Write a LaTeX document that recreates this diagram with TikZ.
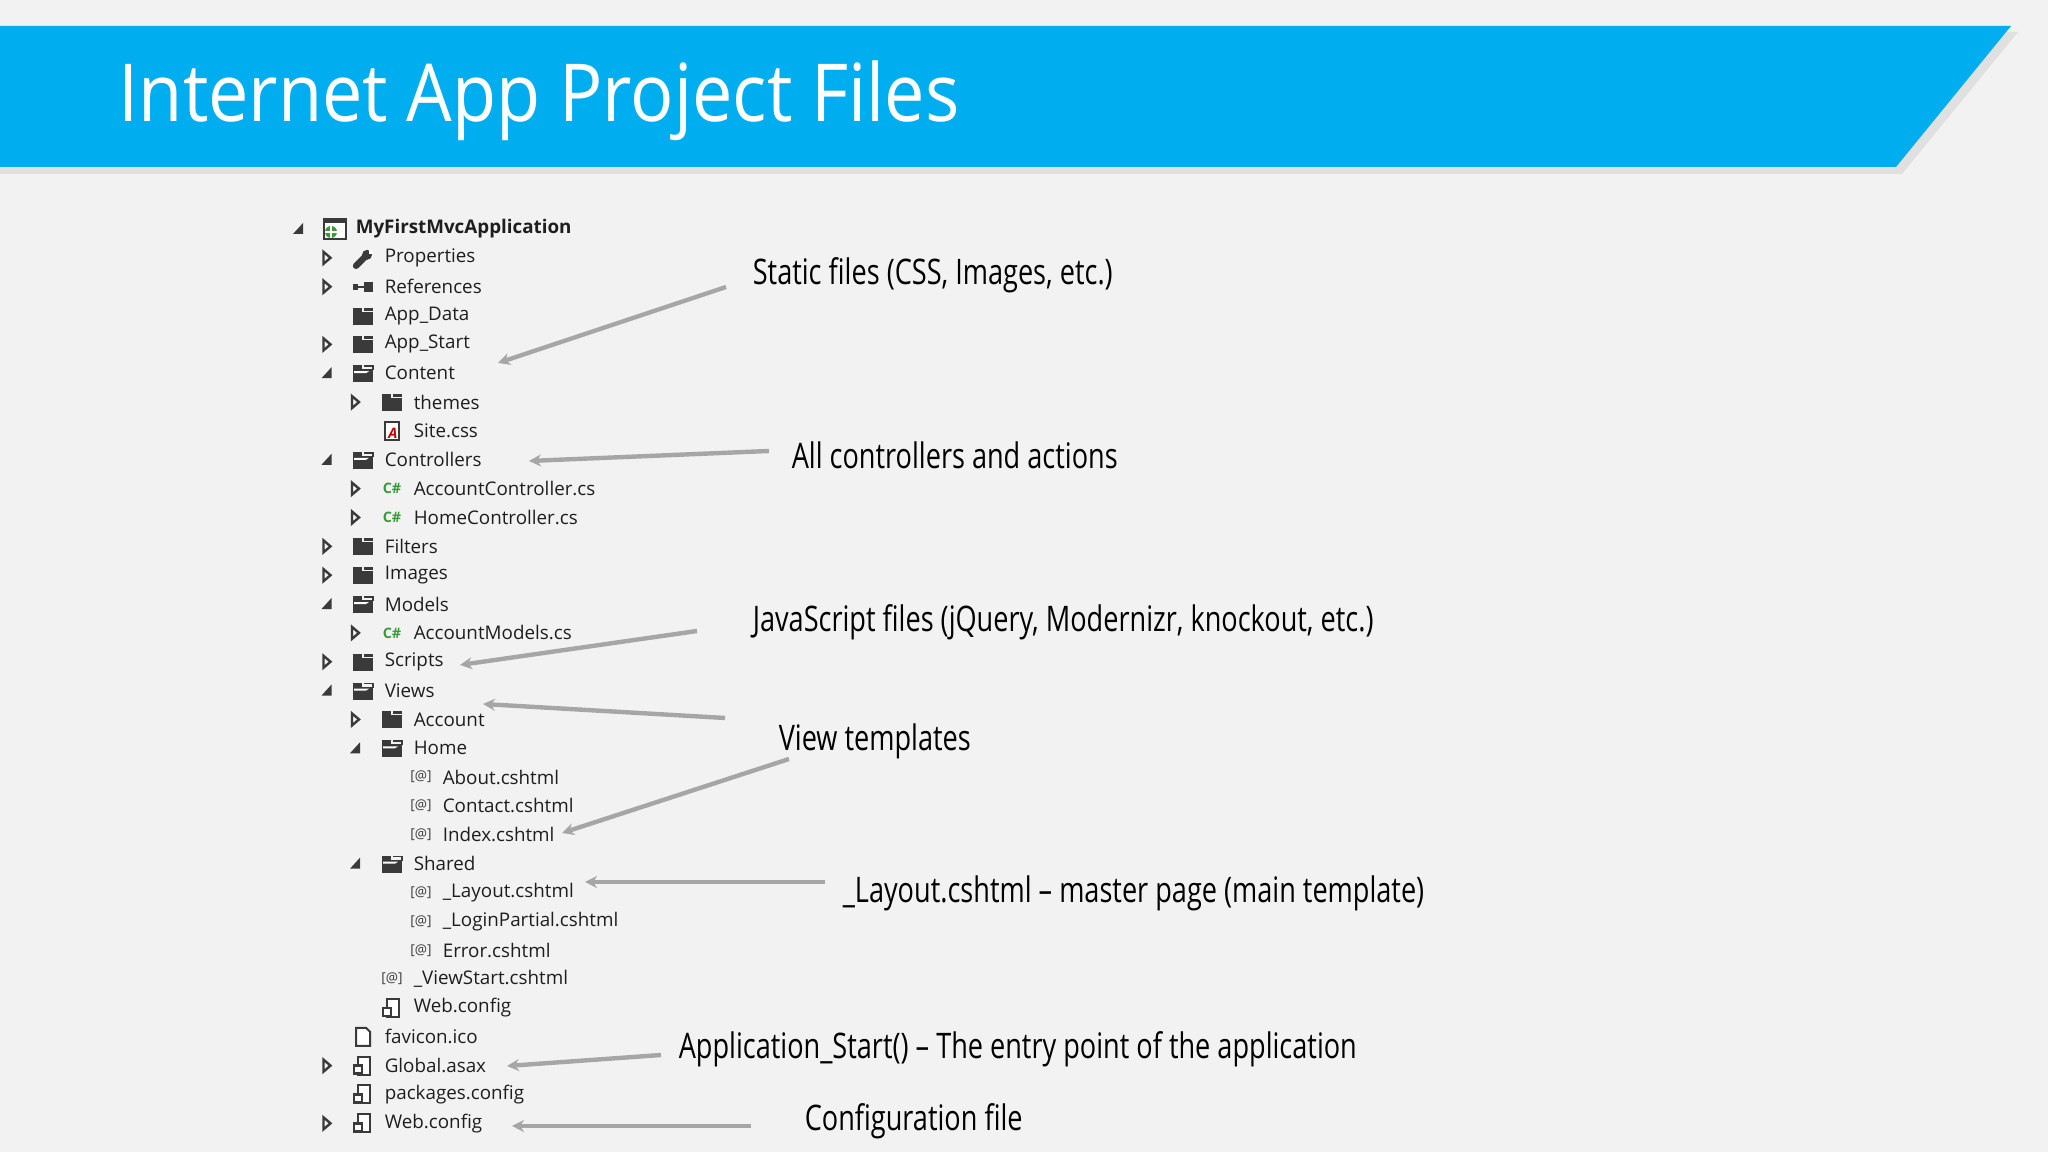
\documentclass[tikz,border=0pt]{standalone}
\usepackage{fontspec}
\setmainfont{Open Sans}
\newfontfamily\titlef[FakeStretch=0.9]{Open Sans}
\newfontfamily\notef[FakeStretch=0.77]{Open Sans}
\usetikzlibrary{arrows.meta}
\definecolor{bg}{HTML}{F2F2F2}
\definecolor{banner}{HTML}{00AEEF}
\definecolor{iconc}{HTML}{3A3A3A}
\definecolor{txt}{HTML}{1E1E1E}
\definecolor{arrc}{HTML}{A6A6A6}
\definecolor{csg}{HTML}{3C9A3C}
\tikzset{
 tree/.style={anchor=west,inner sep=0pt,text=txt,font=\fontsize{4.7pt}{6pt}\selectfont},
 note/.style={anchor=west,inner sep=0pt,text=black,font=\notef\fontsize{8.8pt}{10pt}\selectfont},
 arr/.style={draw=arrc,line width=1.1pt,-{Stealth[length=3pt,width=3pt]}},
 ic-folder/.pic={\fill[iconc] (-10,-4) rectangle (10,9); \fill[iconc] (-10,-8) rectangle (-1,-3); \fill[iconc] (1,-8) rectangle (10,-5);},
 ic-ofolder/.pic={\fill[iconc] (-10,-4) rectangle (10,9); \fill[iconc] (-10,-8) rectangle (-1,-3); \draw[iconc,line width=0.4pt] (1,-7) -- (10,-7) -- (10,-3); \fill[white] (-9,-2) -- (6,-2) -- (3,0) -- (-9,0) -- cycle;},
 ic-cs/.pic={\node[inner sep=0pt,text=csg,font=\bfseries\fontsize{3.6pt}{4pt}\selectfont] {C\#};},
 ic-razor/.pic={\node[inner sep=0pt,text=iconc,font=\fontsize{3.4pt}{4pt}\selectfont] {[@]};},
 ic-css/.pic={\draw[iconc,line width=0.5pt,fill=white] (-7,-9) rectangle (7,9); \node[inner sep=0pt,text=red!75!black,font=\itshape\bfseries\fontsize{3.6pt}{4pt}\selectfont] at (1,2) {A};},
 ic-file/.pic={\draw[iconc,line width=0.5pt,fill=white] (-7,-9) -- (3,-9) -- (7,-5) -- (7,9) -- (-7,9) -- cycle;},
 ic-config/.pic={\draw[iconc,line width=0.5pt,fill=white] (-5,-9) -- (7,-9) -- (7,9) -- (-5,9) -- cycle; \draw[iconc,line width=0.6pt,fill=white] (-9,0) rectangle (-1,8);},
 ic-wrench/.pic={\draw[iconc,line width=1.6pt,line cap=round] (-7,8) -- (3,-2); \fill[iconc] (4,-3) circle (5); \fill[white] (6,-8) rectangle (10,-4);},
 ic-refs/.pic={\fill[iconc] (-10,-3) rectangle (-5,3); \fill[iconc] (1,-5) rectangle (10,5); \draw[iconc,line width=0.5pt] (-5,0) -- (1,0);},
 ic-proj/.pic={\draw[iconc,line width=0.6pt,fill=white] (-10,-10) rectangle (12,10); \fill[iconc] (-10,-10) rectangle (12,-6); \fill[csg] (-3,3) circle (6); \draw[white,line width=0.4pt] (-9,3) -- (3,3) (-3,-3) -- (-3,9);},
}
\begin{document}
\begin{tikzpicture}[x=0.25pt,y=-0.25pt]
\fill[bg] (0,0) rectangle (2048,1152);
\useasboundingbox (0,0) rectangle (2048,1152);
% banner shadow and banner
\fill[black!12] (0,32) -- (2018,32) -- (1902,174) -- (0,174) -- cycle;
\fill[banner] (0,26) -- (2011,26) -- (1896,167) -- (0,167) -- cycle;
\node[anchor=west,inner sep=0pt,text=white,font=\titlef\fontsize{20pt}{24pt}\selectfont] (title) at (118,101) {Internet App Project Files};
% tree
\foreach \i/\lv/\ex/\ic/\t in {
0/0/2/proj/{\textbf{MyFirstMvcApplication}},
1/1/1/wrench/Properties,
2/1/1/refs/References,
3/1/0/folder/App\_Data,
4/1/1/folder/App\_Start,
5/1/2/ofolder/Content,
6/2/1/folder/themes,
7/2/0/css/Site.css,
8/1/2/ofolder/Controllers,
9/2/1/cs/AccountController.cs,
10/2/1/cs/HomeController.cs,
11/1/1/folder/Filters,
12/1/1/folder/Images,
13/1/2/ofolder/Models,
14/2/1/cs/AccountModels.cs,
15/1/1/folder/Scripts,
16/1/2/ofolder/Views,
17/2/1/folder/Account,
18/2/2/ofolder/Home,
19/3/0/razor/About.cshtml,
20/3/0/razor/Contact.cshtml,
21/3/0/razor/Index.cshtml,
22/2/2/ofolder/Shared,
23/3/0/razor/\_Layout.cshtml,
24/3/0/razor/\_LoginPartial.cshtml,
25/3/0/razor/Error.cshtml,
26/2/0/razor/\_ViewStart.cshtml,
27/2/0/config/Web.config,
28/1/0/file/favicon.ico,
29/1/1/config/Global.asax,
30/1/0/config/packages.config,
31/1/1/config/Web.config}{
 \pgfmathsetmacro{\yy}{229+\i*28.85}
 \pgfmathsetmacro{\tx}{298+28.5*\lv}
 \pgfmathsetmacro{\ix}{334+29*\lv}
 \ifnum\ex=1
  \draw[iconc,line width=0.6pt] (\tx-3,\yy-6) -- (\tx+4,\yy) -- (\tx-3,\yy+6) -- cycle;
 \fi
 \ifnum\ex=2
  \fill[iconc] (\tx+5,\yy-6) -- (\tx+5,\yy+5) -- (\tx-5,\yy+5) -- cycle;
 \fi
 \pic at (\ix,\yy) {ic-\ic};
 \node[tree] (t\i) at (\ix+21,\yy) {\t};
}
% annotations
\node[note] (n1) at (752,275) {Static files (CSS, Images, etc.)};
\node[note] (n2) at (791,455) {All controllers and actions};
\node[note] (n3) at (752,622) {JavaScript files (jQuery, Modernizr, knockout, etc.)};
\node[note] (n4) at (778,741) {View templates};
\node[note] (n5) at (842,893) {\_Layout.cshtml – master page (main template)};
\node[note] (n6) at (678,1049) {Application\_Start() – The entry point of the application};
\node[note] (n7) at (804,1121) {Configuration file};
\coordinate (a1) at (726,287); \coordinate (b1) at (498,363);
\coordinate (a2) at (769,451); \coordinate (b2) at (529,461);
\coordinate (a3) at (697,631); \coordinate (b3) at (460,665);
\coordinate (a4) at (725,718); \coordinate (b4) at (483,704);
\coordinate (a5) at (789,759); \coordinate (b5) at (562,833);
\coordinate (a6) at (825,882); \coordinate (b6) at (585,882);
\coordinate (a7) at (661,1055); \coordinate (b7) at (507,1066);
\coordinate (a8) at (751,1126); \coordinate (b8) at (512,1126);
\foreach \k in {1,...,8}{\draw[arr] (a\k) -- (b\k);}
\end{tikzpicture}
\end{document}
